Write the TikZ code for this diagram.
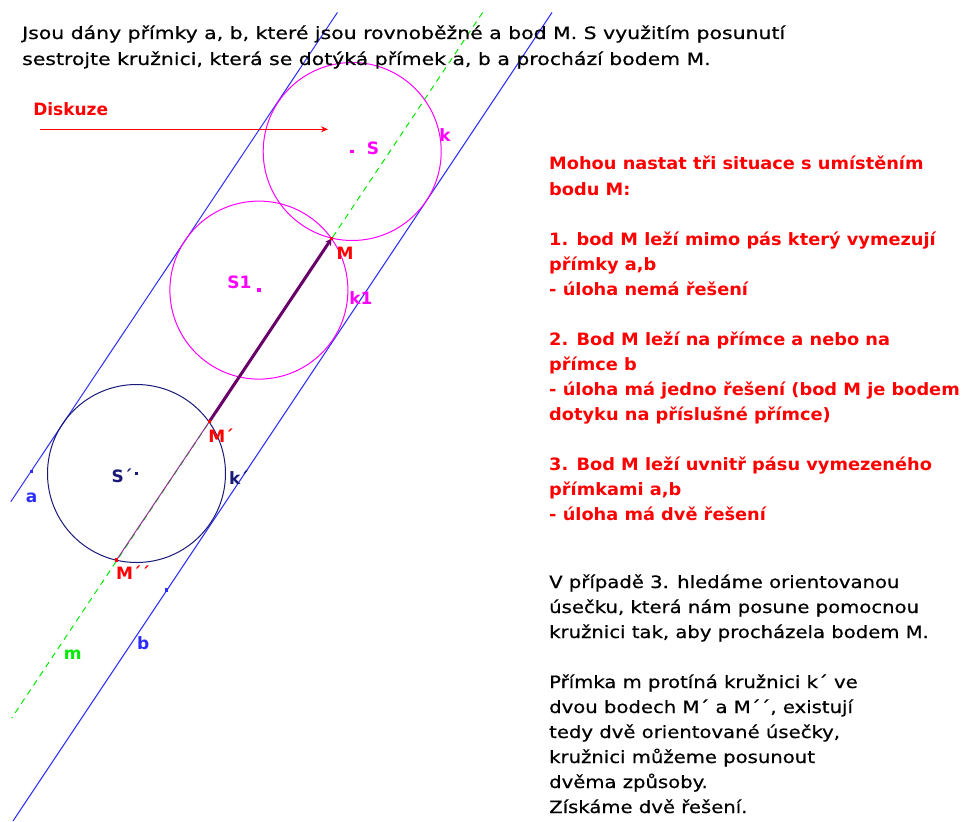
\documentclass[tikz,border=0pt]{standalone}
\usepackage{fontspec}
\setmainfont{DejaVu Sans}
\newfontfamily\titlefont{DejaVu Sans}[FakeStretch=1.2,FakeBold=0.6]
\newfontfamily\blackfont{DejaVu Sans}[FakeStretch=1.155,FakeBold=0.6]
\newfontfamily\redfont{DejaVu Sans}[FakeStretch=1.045]
\usetikzlibrary{arrows.meta}
\definecolor{lineblue}{RGB}{45,45,255}
\definecolor{mag}{RGB}{255,0,255}
\definecolor{navyc}{RGB}{25,25,120}
\definecolor{grn}{RGB}{0,235,0}
\definecolor{purp}{RGB}{105,0,105}
\definecolor{purpthin}{RGB}{150,50,150}
\definecolor{redc}{RGB}{255,0,0}
\tikzset{
  txt/.style={anchor=base west,inner sep=0pt,font=\fontsize{17}{20}\blackfont},
  ttxt/.style={anchor=base west,inner sep=0pt,font=\fontsize{17}{20}\titlefont},
  redtxt/.style={anchor=base west,inner sep=0pt,text=redc,font=\fontsize{17}{20}\redfont\bfseries},
  lbl/.style={inner sep=0pt,font=\fontsize{17}{20}\selectfont\bfseries},
  geoline/.style={lineblue,line width=1pt},
  circmag/.style={mag,line width=1pt},
  pt/.style={inner sep=0pt,minimum size=3.5pt,fill},
}
\begin{document}
\begin{tikzpicture}[x=1pt,y=-1pt]
\useasboundingbox (0,0) rectangle (965,821);
\fill[white] (0,0) rectangle (965,821);
% key points
\coordinate (a1) at (337.4,12.5);
\coordinate (a2) at (10.8,501.7);
\coordinate (b1) at (552,12.5);
\coordinate (b2) at (13,821);
\coordinate (m1) at (482.6,12.5);
\coordinate (m2) at (11.7,718);
\coordinate (M) at (331.7,238.3);
\coordinate (M1) at (209.3,421.7);
\coordinate (M2) at (116.5,560);
\coordinate (S) at (352.2,151.5);
\coordinate (S1) at (258.9,290.1);
\coordinate (Sp) at (136.5,473.5);
\coordinate (Pa) at (31.7,471.7);
\coordinate (Pb) at (166.7,590);
\coordinate (d1) at (40,129.3);
\coordinate (d2) at (328,129.3);
% lines
\draw[geoline] (a1) -- (a2);
\draw[geoline] (b1) -- (b2);
\draw[grn,line width=1pt,dash pattern=on 6pt off 5pt] (m1) -- (m2);
% circles
\draw[circmag] (S) circle[radius=89pt];
\draw[circmag] (S1) circle[radius=89pt];
\draw[navyc,line width=1pt] (Sp) circle[radius=89pt];
% translation vectors
\draw[purpthin,line width=1pt] (M2) -- (M1);
\draw[purp,line width=3pt,-{Stealth[length=7pt,width=7pt]}] (M1) -- (M);
% diskuze arrow
\draw[redc,line width=1pt,-{Stealth[length=7pt,width=6pt]}] (d1) -- (d2);
% points
\node[pt,fill=lineblue] (pa) at (Pa) {};
\node[pt,fill=lineblue] (pb) at (Pb) {};
\node[pt,fill=mag] (ps) at (S) {};
\node[pt,fill=mag] (ps1) at (S1) {};
\node[pt,fill=navyc] (psp) at (Sp) {};
\node[pt,fill=redc] (pm) at (M) {};
\node[pt,fill=redc] (pm1) at (M1) {};
\node[pt,fill=redc] (pm2) at (M2) {};
% labels
\node[lbl,text=redc] (ldis) at (70.7,109) {Diskuze};
\node[lbl,text=mag] (lS) at (373,148) {S};
\node[lbl,text=mag] (lk) at (445,135) {k};
\node[lbl,text=redc] (lM) at (345,253) {M};
\node[lbl,text=mag] (lS1) at (239.5,282) {S1};
\node[lbl,text=mag] (lk1) at (361,298) {k1};
\node[lbl,text=redc] (lM1) at (221,436) {M´};
\node[lbl,text=navyc] (lSp) at (122,476) {S´};
\node[lbl,text=navyc] (lkp) at (239,478) {k´};
\node[lbl,text=lineblue] (la) at (31.7,498) {a};
\node[lbl,text=redc] (lM2) at (133,573) {M´´};
\node[lbl,text=lineblue] (lb) at (143.3,643) {b};
\node[lbl,text=grn] (lm) at (72.7,655) {m};
% title
\node[ttxt] (t1) at (22,39) {Jsou dány přímky a, b, které jsou rovnoběžné a bod M. S využitím posunutí};
\node[ttxt] (t2) at (22,65) {sestrojte kružnici, která se dotýká přímek a, b a prochází bodem M.};
% red block
\node[redtxt] (r1) at (549,170) {Mohou nastat tři situace s umístěním};
\node[redtxt] (r2) at (549,195) {bodu M:};
\node[redtxt] (r4) at (549,245) {1. bod M leží mimo pás který vymezují};
\node[redtxt] (r5) at (549,270) {přímky a,b};
\node[redtxt] (r6) at (549,295) {- úloha nemá řešení};
\node[redtxt] (r8) at (549,345) {2. Bod M leží na přímce a nebo na};
\node[redtxt] (r9) at (549,370) {přímce b};
\node[redtxt] (r10) at (549,395) {- úloha má jedno řešení (bod M je bodem};
\node[redtxt] (r11) at (549,420) {dotyku na příslušné přímce)};
\node[redtxt] (r13) at (549,470) {3. Bod M leží uvnitř pásu vymezeného};
\node[redtxt] (r14) at (549,495) {přímkami a,b};
\node[redtxt] (r15) at (549,520) {- úloha má dvě řešení};
% black block
\node[txt] (k1t) at (549,588) {V případě 3. hledáme orientovanou};
\node[txt] (k2t) at (549,613) {úsečku, která nám posune pomocnou};
\node[txt] (k3t) at (549,638) {kružnici tak, aby procházela bodem M.};
\node[txt] (k5t) at (549,688) {Přímka m protíná kružnici k´ ve};
\node[txt] (k6t) at (549,713) {dvou bodech M´ a M´´, existují};
\node[txt] (k7t) at (549,738) {tedy dvě orientované úsečky,};
\node[txt] (k8t) at (549,763) {kružnici můžeme posunout};
\node[txt] (k9t) at (549,788) {dvěma způsoby.};
\node[txt] (k10t) at (549,813) {Získáme dvě řešení.};
\end{tikzpicture}
\end{document}
